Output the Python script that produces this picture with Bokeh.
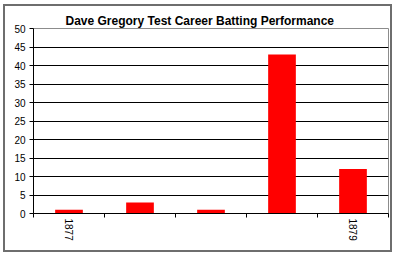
from bokeh.plotting import figure
from bokeh.models import FixedTicker, Range1d, ColumnDataSource
from bokeh.embed import file_html
from bokeh.resources import INLINE

# Runs per Test innings
innings = [1, 2, 3, 4, 5]
runs = [1, 3, 1, 43, 12]
innings_labels = ["1877", "", "", "", "1879"]
y_ticks = [0, 5, 10, 15, 20, 25, 30, 35, 40, 45, 50]

FONT = "Liberation Sans"

centers = [i - 0.5 for i in innings]
source = ColumnDataSource(data=dict(x=centers, runs=runs))

p = figure(
    width=389, height=248,
    output_backend="svg", toolbar_location=None,
    x_range=Range1d(0, len(innings)), y_range=Range1d(0, 50),
    min_border_left=28, min_border_right=6,
    min_border_top=22, min_border_bottom=41,
    margin=(4, 4, 3, 3),
    title="Dave Gregory Test Career Batting Performance",
)
p.styles = {"border": "2px solid #6e6e6e"}

p.vbar(x="x", top="runs", width=0.39, source=source,
       fill_color="#ff0000", line_color=None)

# title, centred on the whole chart rather than on the plot area
p.title.align = "left"
p.title.offset = 32
p.title.text_font = FONT
p.title.text_font_size = "12px"
p.title.text_font_style = "bold"
p.title.text_color = "black"
p.title.standoff = 2

p.background_fill_color = "white"
p.border_fill_color = "white"
p.outline_line_color = "#8c8c8c"
p.outline_line_width = 1

# y axis
p.yaxis.ticker = FixedTicker(ticks=y_ticks)
p.yaxis.axis_line_color = "black"
p.yaxis.major_tick_line_color = "black"
p.yaxis.major_tick_out = 4
p.yaxis.major_tick_in = 0
p.yaxis.minor_tick_line_color = None
p.yaxis.major_label_standoff = 4
p.yaxis.major_label_text_font = FONT
p.yaxis.major_label_text_font_size = "10px"
p.yaxis.major_label_text_color = "black"

# x axis: labels at bar centres, tick marks at category boundaries
p.xaxis.ticker = FixedTicker(ticks=centers,
                             minor_ticks=list(range(0, len(innings) + 1)))
p.xaxis.major_label_overrides = {c: lab for c, lab in zip(centers, innings_labels)}
p.xaxis.major_tick_out = 0
p.xaxis.major_tick_in = 0
p.xaxis.minor_tick_out = 4
p.xaxis.minor_tick_in = 0
p.xaxis.minor_tick_line_color = "black"
p.xaxis.axis_line_color = "black"
p.xaxis.major_label_orientation = "vertical"
p.xaxis.major_label_standoff = 1
p.xaxis.major_label_text_font = FONT
p.xaxis.major_label_text_font_size = "10px"
p.xaxis.major_label_text_color = "black"

# grid
p.xgrid.grid_line_color = None
p.ygrid.ticker = FixedTicker(ticks=y_ticks[1:-1])
p.ygrid.grid_line_color = "black"
p.ygrid.grid_line_width = 1

open("out.html", "w").write(file_html(p, INLINE))
